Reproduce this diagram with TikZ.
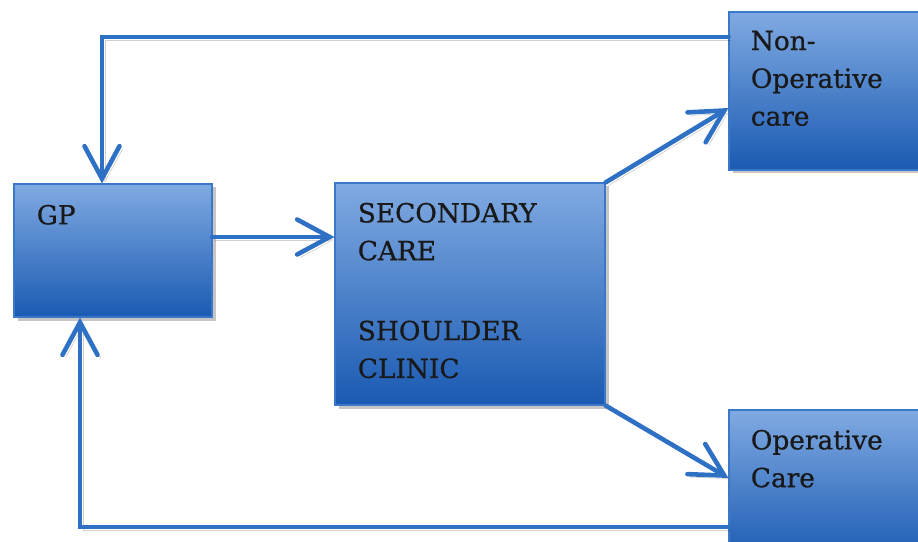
\documentclass[tikz,border=0pt]{standalone}
\usepackage{fontspec}
\setmainfont{DejaVu Serif}[FakeBold=0.7]
\usetikzlibrary{positioning,shadows,arrows.meta}

\definecolor{boxtop}{RGB}{128,170,226}
\definecolor{boxbot}{RGB}{26,90,178}
\definecolor{boxline}{RGB}{60,120,200}
\definecolor{linkblue}{RGB}{46,112,196}

\begin{document}
\begin{tikzpicture}[
	box/.style={rectangle, draw=boxline, line width=0.6pt, top color=boxtop, bottom color=boxbot,
		drop shadow={shadow xshift=0.07cm, shadow yshift=-0.07cm, opacity=0.45}},
	boxtext/.style={inner sep=0pt, align=left, text=black!90, font=\fontsize{15}{21.5}\selectfont},
	link/.style={draw=linkblue, line width=2.6pt, line cap=round, line join=miter,
		-{Straight Barb[length=6.5mm, width=7mm, line width=2.6pt, line cap=round]},
		preaction={draw=black, opacity=0.18, transform canvas={xshift=0.06cm, yshift=-0.06cm}}}
	]

	\useasboundingbox (0,0) rectangle (18.36,10.82);
	\clip (0,0) rectangle (18.36,10.82);

	\node [box, minimum width=3.96cm, minimum height=2.66cm] (gp) at (2.26,5.81) {};
	\node [box, minimum width=5.4cm, minimum height=4.44cm] (sec) at (9.4,4.94) {};
	\node [box, minimum width=4.2cm, minimum height=3.16cm] (nonop) at (16.68,9.0) {};
	\node [box, minimum width=4.2cm, minimum height=3.02cm] (op) at (16.68,1.11) {};

	\node [boxtext, below right=0.42cm and 0.46cm of gp.north west, anchor=north west] (gptext) {GP};
	\node [boxtext, below right=0.40cm and 0.46cm of sec.north west, anchor=north west] (sectext)
		{SECONDARY\\CARE\\[24pt]SHOULDER\\CLINIC};
	\node [boxtext, below right=0.38cm and 0.44cm of nonop.north west, anchor=north west] (nonoptext)
		{Non-\\Operative\\care};
	\node [boxtext, below right=0.40cm and 0.44cm of op.north west, anchor=north west] (optext)
		{Operative\\Care};

	\coordinate (topbend) at (2.04,10.08);
	\coordinate (botbend) at (1.6,0.28);
	\coordinate (gpout) at (4.24,6.08);

	\draw [link] (nonop.west |- topbend) -- (topbend) -- (topbend |- gp.north);
	\draw [link] (gpout) -- (sec.west |- gpout);
	\draw [link] (sec.north east) -- (nonop.west |- 0,8.66);
	\draw [link] (sec.south east) -- (op.west |- 0,1.26);
	\draw [link] (op.west |- botbend) -- (botbend) -- (botbend |- gp.south);

\end{tikzpicture}
\end{document}
